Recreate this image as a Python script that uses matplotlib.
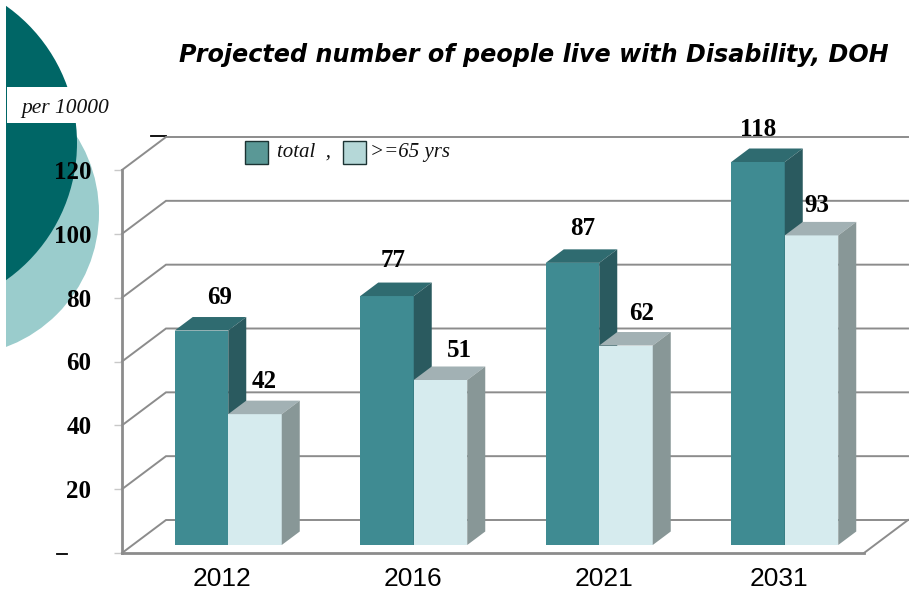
import numpy as np
import matplotlib
matplotlib.use('Agg')
import matplotlib.pyplot as plt
from matplotlib.patches import Circle, Rectangle
from matplotlib.transforms import ScaledTranslation

years = ['2012', '2016', '2021', '2031']
total_heights = [67.2, 78, 88.4, 120]
older_heights = [41, 51.7, 62.5, 97]
total_labels = [69, 77, 87, 118]
older_labels = [42, 51, 62, 93]
y_ticks = [0, 20, 40, 60, 80, 100, 120]

W, H = 909, 592
GRID = '#8c8c8c'
total_cols = ('#3f8b92', '#2f6b70', '#2a5a5f')
older_cols = ('#d6ebee', '#a2b1b4', '#889797')

fig = plt.figure(figsize=(W / 100, H / 100), dpi=100)

# decoration at the left, in pixels
bg = fig.add_axes([0, 0, 1, 1], zorder=0)
bg.set_xlim(0, W)
bg.set_ylim(H, 0)
bg.axis('off')
strip = Rectangle((6, 0), W, H, transform=bg.transData)
light = bg.add_patch(Circle((-44, 213), 143, color='#9acccc', lw=0))
dark = bg.add_patch(Circle((-91, 143), 168, color='#006666', lw=0))
light.set_clip_path(strip)
dark.set_clip_path(strip)
bg.add_patch(Rectangle((7, 87), 103, 36, color='white', lw=0))
bg.text(21, 113, 'per 10000', family='Liberation Serif', style='italic', fontsize=15.5, va='baseline', color='#111111')

# stray dashes
bg.plot([151, 166], [135.5, 135.5], color='black', lw=1.3)
bg.plot([57, 67], [553.5, 553.5], color='black', lw=1.3)

# legend
bg.add_patch(Rectangle((245, 141), 23, 23, fc='#5a9896', ec='#1c3333', lw=1))
bg.add_patch(Rectangle((343, 141), 23, 23, fc='#b5d8d8', ec='#1c3333', lw=1))
bg.text(277, 157, 'total  ,', family='Liberation Serif', style='italic', fontsize=15, va='baseline', color='#111111')
bg.text(370, 157, '>=65 yrs', family='Liberation Serif', style='italic', fontsize=15, va='baseline', color='#111111')

fig.text(179 / W, 1 - 55 / H, 'Projected number of people live with Disability, DOH',
         family='DejaVu Sans', weight='bold', style='oblique', fontsize=17.2, va='center', color='black')

# main chart, front plane runs x 122-864, y 553-170
ax = fig.add_axes([122 / W, 1 - 553 / H, 742 / W, 383 / H], zorder=1)
ax.patch.set_alpha(0)
ax.set_xlim(-0.5, 3.5)
ax.set_ylim(0, 120)
PX_X = 4 / 742
PX_Y = 120 / 383
wall_dx, wall_dy = 44 * PX_X, 33 * PX_Y

# back wall and floor
for v in y_ticks:
    ax.plot([-0.5, -0.5 + wall_dx, 3.5 + wall_dx], [v, v + wall_dy, v + wall_dy],
            color=GRID, lw=1.4, clip_on=False, zorder=1, solid_joinstyle='miter')
ax.plot([3.5, 3.5 + wall_dx], [0, wall_dy], color=GRID, lw=1.4, clip_on=False, zorder=1)

for s in ['top', 'right']:
    ax.spines[s].set_visible(False)
for s in ['left', 'bottom']:
    ax.spines[s].set_color(GRID)
    ax.spines[s].set_linewidth(2.0)


def drawBar(left, width, height, cols):
    base = 8 * PX_Y
    top = base + height
    dx, dy = 18 * PX_X, 13.5 * PX_Y
    right = left + width
    ax.fill([left, right, right, left], [base, base, top, top], color=cols[0], lw=0, clip_on=False, zorder=3)
    ax.fill([left, right, right + dx, left + dx], [top, top, top + dy, top + dy], color=cols[1], lw=0, clip_on=False, zorder=3)
    ax.fill([right, right + dx, right + dx, right], [base, base + dy, top + dy, top], color=cols[2], lw=0, clip_on=False, zorder=3)
    return top


# bars start 13 px right of the category centre
x_pos = np.arange(len(years))
bar_w = 53.5 * PX_X
shift = 13.5 * PX_X
total_off = [(18, 33), (6, 36), (10, 34), (0, 33)]
older_off = [(9, 33), (19, 29), (16, 32), (5, 30)]
label_font = dict(family='Liberation Serif', weight='bold', fontsize=18, ha='center', va='center', color='black')

for i, x in enumerate(x_pos):
    top = drawBar(x + shift - bar_w, bar_w, total_heights[i], total_cols)
    ax.annotate(str(total_labels[i]), (x + shift - bar_w / 2, top), xytext=total_off[i],
                textcoords='offset pixels', annotation_clip=False, zorder=5, **label_font)
    top = drawBar(x + shift, bar_w, older_heights[i], older_cols)
    ax.annotate(str(older_labels[i]), (x + shift + bar_w / 2, top), xytext=older_off[i],
                textcoords='offset pixels', annotation_clip=False, zorder=5, **label_font)

ax.set_xticks(x_pos)
ax.set_xticklabels(years, family='Liberation Sans', fontsize=19)
ax.tick_params(axis='x', length=0, pad=10)
for lab, off in zip(ax.get_xticklabels(), [7, 13, 18, 8]):
    lab.set_transform(lab.get_transform() + ScaledTranslation(off / 100, 0, fig.dpi_scale_trans))

ax.set_yticks(y_ticks)
ax.set_yticklabels([''] + [str(v) for v in y_ticks[1:]], family='Liberation Serif', weight='bold', fontsize=18)
ax.tick_params(axis='y', length=6, width=1, color='#c8c8c8', pad=16)

fig.savefig('out.png', dpi=100)
